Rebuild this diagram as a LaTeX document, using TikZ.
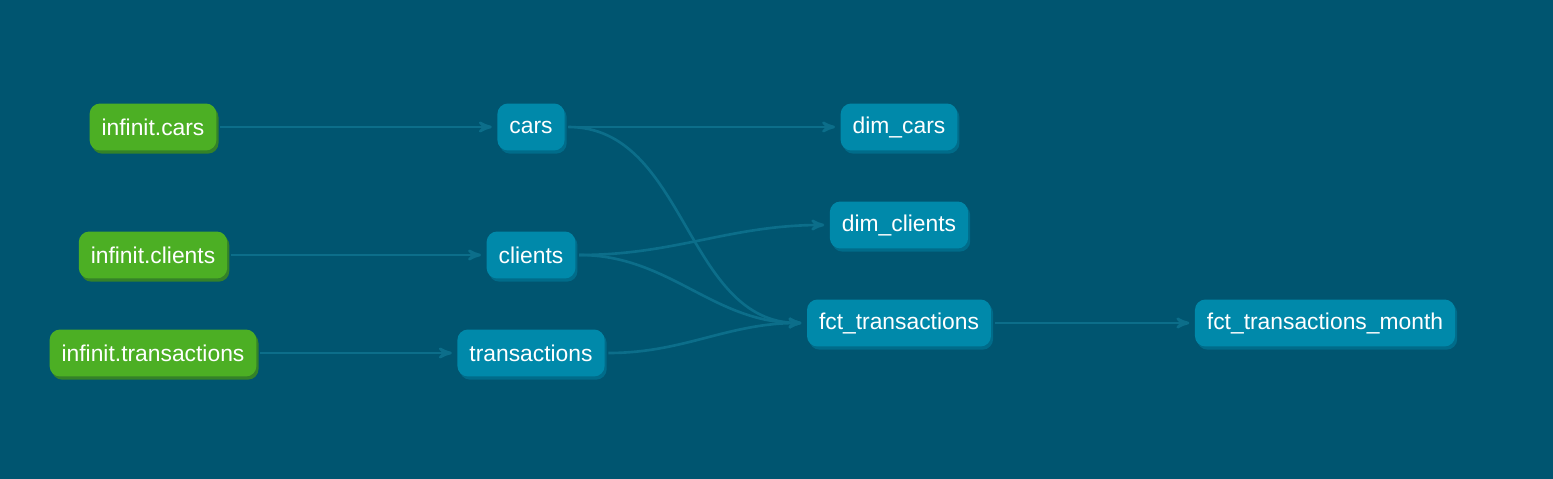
\documentclass[tikz,border=0pt]{standalone}
\usepackage{fontspec}
\setmainfont{Liberation Sans}
\usetikzlibrary{arrows,shapes,shadows}

\definecolor{bgblue}{RGB}{0,85,112}
\definecolor{srcgreen}{RGB}{76,175,36}
\definecolor{srcshade}{RGB}{52,130,40}
\definecolor{mdlteal}{RGB}{0,137,170}
\definecolor{mdlshade}{RGB}{0,108,138}
\definecolor{flowline}{RGB}{12,110,138}

\tikzset{
  box/.style={shape=rectangle,rounded corners=6pt,text=white,inner xsep=0.24cm,
    minimum height=0.94cm,font=\fontsize{13}{15}\selectfont},
  src/.style={box,fill=srcgreen,general shadow={fill=srcshade,shadow xshift=1.2pt,shadow yshift=-1.8pt}},
  mdl/.style={box,fill=mdlteal,general shadow={fill=mdlshade,shadow xshift=1.2pt,shadow yshift=-1.8pt}},
  flow/.style={draw=flowline,->,line width=1.5pt,shorten <=2pt,shorten >=3pt}
}

\begin{document}
\begin{tikzpicture}[x=0.02cm,y=-0.02cm,>=stealth']
                \fill[bgblue](0,0)rectangle(1553,479);
                \useasboundingbox(0,0)rectangle(1553,479);
                % sources
                \node[src](infcars)at(153,127){infinit.cars};
                \node[src](infclients)at(153,255){infinit.clients};
                \node[src](inftrans)at(153,353){infinit.transactions};
                % staging
                \node[mdl](cars)at(531,127){cars};
                \node[mdl](clients)at(531,255){clients};
                \node[mdl](trans)at(531,353){transactions};
                % marts
                \node[mdl](dimcars)at(899,127){dim\_cars};
                \node[mdl](dimclients)at(899,225){dim\_clients};
                \node[mdl](fcttrans)at(899,323){fct\_transactions};
                \node[mdl](fctmonth)at(1325,323){fct\_transactions\_month};
                \path[out=0,in=180,every edge/.style={flow}]
                (infcars) edge (cars)
                (infclients) edge (clients)
                (inftrans) edge (trans)
                (cars.east) edge (dimcars.west)
                (cars.east) edge (fcttrans.west)
                (clients.east) edge (dimclients.west)
                (clients.east) edge (fcttrans.west)
                (trans.east) edge (fcttrans.west)
                (fcttrans) edge (fctmonth);
            \end{tikzpicture}
\end{document}
